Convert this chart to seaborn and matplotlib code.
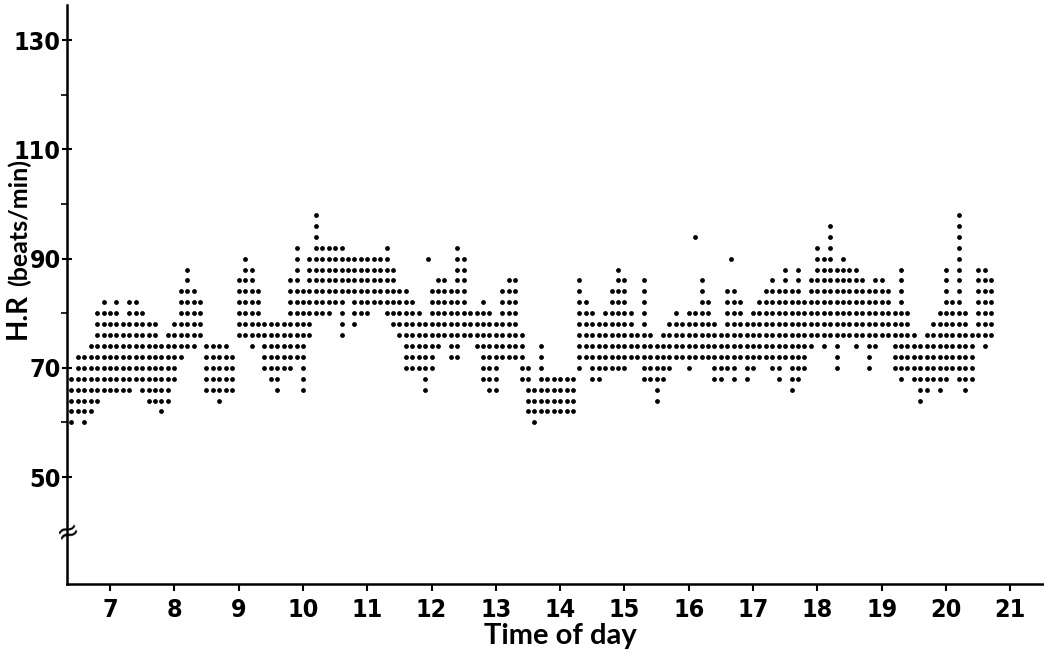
import numpy as np
import pandas as pd
import matplotlib
matplotlib.use("Agg")
import matplotlib.pyplot as plt
import seaborn as sns

# column time (hour of day) and the lowest / highest heart rate dot in that column
time_h = [6.4, 6.5, 6.6, 6.7, 6.8, 6.9,
          7.0, 7.1, 7.2, 7.3, 7.4, 7.5, 7.6, 7.7, 7.8, 7.9,
          8.0, 8.1, 8.2, 8.3, 8.4, 8.5, 8.6, 8.7, 8.8, 8.9,
          9.0, 9.1, 9.2, 9.3, 9.4, 9.5, 9.6, 9.7, 9.8, 9.9,
          10.0, 10.1, 10.2, 10.3, 10.4, 10.5, 10.6, 10.7, 10.8, 10.9,
          11.0, 11.1, 11.2, 11.3, 11.4, 11.5, 11.6, 11.7, 11.8, 11.9,
          12.0, 12.1, 12.2, 12.3, 12.4, 12.5, 12.6, 12.7, 12.8, 12.9,
          13.0, 13.1, 13.2, 13.3, 13.4, 13.5, 13.6, 13.7, 13.8, 13.9,
          14.0, 14.1, 14.2, 14.3, 14.4, 14.5, 14.6, 14.7, 14.8, 14.9,
          15.0, 15.1, 15.2, 15.3, 15.4, 15.5, 15.6, 15.7, 15.8, 15.9,
          16.0, 16.1, 16.2, 16.3, 16.4, 16.5, 16.6, 16.7, 16.8, 16.9,
          17.0, 17.1, 17.2, 17.3, 17.4, 17.5, 17.6, 17.7, 17.8, 17.9,
          18.0, 18.1, 18.2, 18.3, 18.4, 18.5, 18.6, 18.7, 18.8, 18.9,
          19.0, 19.1, 19.2, 19.3, 19.4, 19.5, 19.6, 19.7, 19.8, 19.9,
          20.0, 20.1, 20.2, 20.3, 20.4, 20.5, 20.6, 20.7]

hr_lo = [60, 62, 60, 62, 64, 66,
         66, 66, 66, 66, 68, 66, 64, 64, 62, 64,
         68, 72, 74, 74, 76, 66, 66, 64, 66, 66,
         76, 76, 74, 76, 70, 68, 66, 70, 70, 72,
         66, 76, 80, 80, 80, 82, 76, 84, 78, 80,
         80, 82, 82, 80, 78, 76, 70, 70, 70, 66,
         70, 74, 76, 72, 72, 76, 76, 74, 68, 66,
         66, 72, 72, 72, 68, 62, 60, 62, 62, 62,
         62, 62, 62, 70, 72, 68, 68, 70, 70, 70,
         70, 72, 72, 68, 68, 64, 68, 70, 72, 72,
         70, 72, 72, 72, 68, 68, 70, 68, 72, 68,
         70, 72, 72, 70, 68, 72, 66, 68, 70, 74,
         76, 74, 76, 70, 76, 76, 74, 76, 70, 74,
         76, 76, 70, 68, 70, 68, 64, 66, 68, 66,
         68, 70, 68, 66, 68, 76, 74, 76]

hr_hi = [68, 72, 72, 74, 80, 82,
         80, 82, 78, 82, 82, 80, 78, 78, 74, 76,
         78, 84, 88, 84, 82, 74, 74, 74, 74, 72,
         86, 90, 88, 84, 78, 78, 78, 78, 86, 92,
         84, 90, 98, 92, 92, 92, 92, 90, 90, 90,
         90, 90, 90, 92, 88, 84, 84, 82, 80, 78,
         84, 86, 86, 84, 92, 90, 80, 80, 82, 80,
         78, 84, 86, 86, 76, 70, 66, 74, 68, 68,
         68, 68, 68, 86, 82, 80, 78, 80, 84, 88,
         86, 80, 76, 86, 76, 74, 76, 78, 80, 78,
         80, 80, 86, 82, 78, 76, 84, 84, 82, 78,
         80, 82, 84, 86, 84, 88, 84, 88, 82, 86,
         92, 90, 96, 88, 90, 88, 88, 86, 84, 86,
         86, 84, 80, 88, 80, 76, 74, 76, 78, 80,
         88, 82, 98, 80, 76, 88, 88, 86]

# single isolated dots
extra_time = [11.95, 16.1, 16.65]
extra_hr = [90, 94, 90]

# every recorded value sits on a 2 beats/min row
rows = []
for t, lo, hi in zip(time_h, hr_lo, hr_hi):
    for v in range(lo, hi + 1, 2):
        rows.append((t, v))
for t, v in zip(extra_time, extra_hr):
    rows.append((t, v))
df = pd.DataFrame(rows, columns=["time", "hr"])

sns.set_style("ticks")
plt.rcParams["font.family"] = ["DejaVu Sans"]
plt.rcParams["text.color"] = "black"
plt.rcParams["xtick.color"] = "black"
plt.rcParams["ytick.color"] = "black"

fig = plt.figure(figsize=(10.44, 6.54), dpi=100)
ax = fig.add_axes([0.0642, 0.107, 0.9358, 0.885])

sns.scatterplot(data=df, x="time", y="hr", color="black", s=12,
                linewidth=0, ax=ax, legend=False)

ax.set_xlim(6.331, 21.525)
ax.set_ylim(30.4, 136.4)

tick_font = dict(fontsize=18, fontweight="bold", fontstretch="condensed")
ax.set_xticks(range(7, 22))
ax.set_xticklabels([str(h) for h in range(7, 22)], **tick_font)
ax.set_yticks([50, 70, 90, 110, 130])
ax.set_yticklabels(["50", "70", "90", "110", "130"], **tick_font)
ax.set_yticks([60, 80, 100, 120], minor=True)

ax.tick_params(axis="x", direction="out", length=5, width=1.5, pad=5,
               color="black", labelcolor="black")
ax.tick_params(axis="y", which="major", direction="inout", length=7, width=1.5,
               pad=1, color="black", labelcolor="black")
ax.tick_params(axis="y", which="minor", direction="out", length=4, width=1.2,
               color="black")

for side in ["top", "right"]:
    ax.spines[side].set_visible(False)
for side in ["left", "bottom"]:
    ax.spines[side].set_linewidth(1.8)
    ax.spines[side].set_color("black")

ax.set_xlabel("")
ax.set_ylabel("")

# axis break mark on the y axis
ax.text(6.331, 40, "≈", fontsize=20, ha="center", va="center", color="black",
        family=["DejaVu Sans"], rotation=20)

fig.text(0.537, 0.008, "Time of day", fontsize=21, fontweight="bold",
         fontstretch="normal", ha="center", va="bottom", color="black",
         family=["Lato", "DejaVu Sans"])
fig.text(0.017, 0.517, "H.R", fontsize=20, fontweight="bold", rotation=90,
         fontstretch="normal", ha="center", va="center", color="black",
         family=["Lato", "DejaVu Sans"])
fig.text(0.019, 0.66, "(beats/min)", fontsize=18, fontweight="bold", rotation=90,
         fontstretch="normal", ha="center", va="center", color="black",
         family=["Lato", "DejaVu Sans"])

fig.savefig("out.png", dpi=100, facecolor="white")
